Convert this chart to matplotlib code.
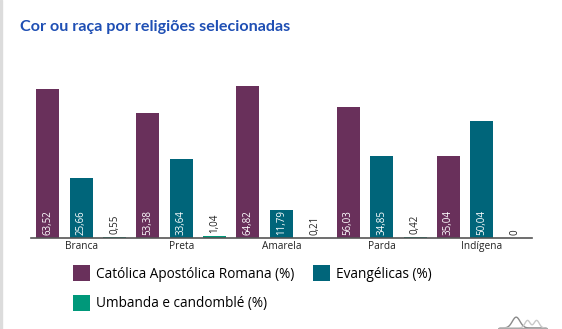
import numpy as np
import matplotlib
matplotlib.use("Agg")
import matplotlib.pyplot as plt
from matplotlib.patches import Patch, Rectangle

grupos = ["Branca", "Preta", "Amarela", "Parda", "Indígena"]
catolica = [63.52, 53.38, 64.82, 56.03, 35.04]
evangelicas = [25.66, 33.64, 11.79, 34.85, 50.04]
umbanda = [0.55, 1.04, 0.21, 0.42, 0]
series = ["Católica Apostólica Romana (%)", "Evangélicas (%)", "Umbanda e candomblé (%)"]
cores = ["#69305b", "#00657a", "#00987a"]

plt.rcParams["font.family"] = ["Open Sans", "DejaVu Sans"]

fig = plt.figure(figsize=(5.62, 3.29), dpi=100)
# borda cinza a esquerda
fig.patches.append(Rectangle((0, 0), 2 / 562, 1, transform=fig.transFigure,
                             color="#dcdcdc", zorder=0))

fig.text(20 / 562, 1 - 27 / 329, "Cor ou raça por religiões selecionadas",
         fontsize=11.6, fontweight="bold", color="#1f4fb4", va="center", ha="left",
         family=["Lato", "DejaVu Sans"])

ax = fig.add_axes([31 / 562, (329 - 238) / 329, 501 / 562, 164 / 329])

x = np.arange(len(grupos))
w = 0.23
off = 0.335
for i, (vals, cor) in enumerate(zip([catolica, evangelicas, umbanda], cores)):
    pos = x + (i - 1) * off
    bars = ax.bar(pos, vals, width=w, color=cor, label=series[i])
    for b, v in zip(bars, vals):
        txt = f"{v:.2f}".rstrip("0").rstrip(".").replace(".", ",") if v else "0"
        if v > 8:
            ax.text(b.get_x() + w / 2, 1.2, txt, rotation=90, ha="center", va="bottom",
                    color="white", fontsize=7)
        else:
            ax.text(b.get_x() + w / 2, v + 1.2, txt, rotation=90, ha="center", va="bottom",
                    color="#222222", fontsize=7)

ax.set_xlim(-0.5, 4.5)
ax.set_ylim(0, 70)
ax.set_xticks(x)
ax.set_xticklabels(grupos, fontsize=7.3, color="#222222")
ax.tick_params(axis="x", length=0, pad=2)
ax.set_yticks([])
for s in ["top", "right", "left"]:
    ax.spines[s].set_visible(False)
ax.spines["bottom"].set_color("#555555")
ax.spines["bottom"].set_linewidth(1.2)

# ordem para preencher por linha (legenda preenche por coluna)
ordem = [0, 2, 1]
handles = [Patch(facecolor=cores[k], edgecolor="none") for k in ordem]
labels = [series[k] for k in ordem]
fig.legend(handles, labels, loc="upper left", bbox_to_anchor=(68 / 562, 1 - 260 / 329),
           ncol=2, frameon=False, fontsize=9.8, handlelength=1.25, handleheight=1.35,
           handletextpad=0.4, columnspacing=1.4, labelspacing=1.0, borderaxespad=0)

# logo cinza no canto
lx = np.linspace(0, 1, 100)
lax = fig.add_axes([498 / 562, 0, 50 / 562, 14 / 329])
lax.plot(lx, np.exp(-((lx - 0.35) / 0.12) ** 2), color="#8a8a8a", lw=1)
lax.plot(lx, 0.7 * np.exp(-((lx - 0.6) / 0.08) ** 2) + 0.7 * np.exp(-((lx - 0.8) / 0.08) ** 2),
         color="#c8c8c8", lw=1)
lax.axhline(0, color="#aaaaaa", lw=0.8)
lax.set_ylim(-0.1, 1.2)
lax.axis("off")

fig.savefig("out.png", dpi=100)
